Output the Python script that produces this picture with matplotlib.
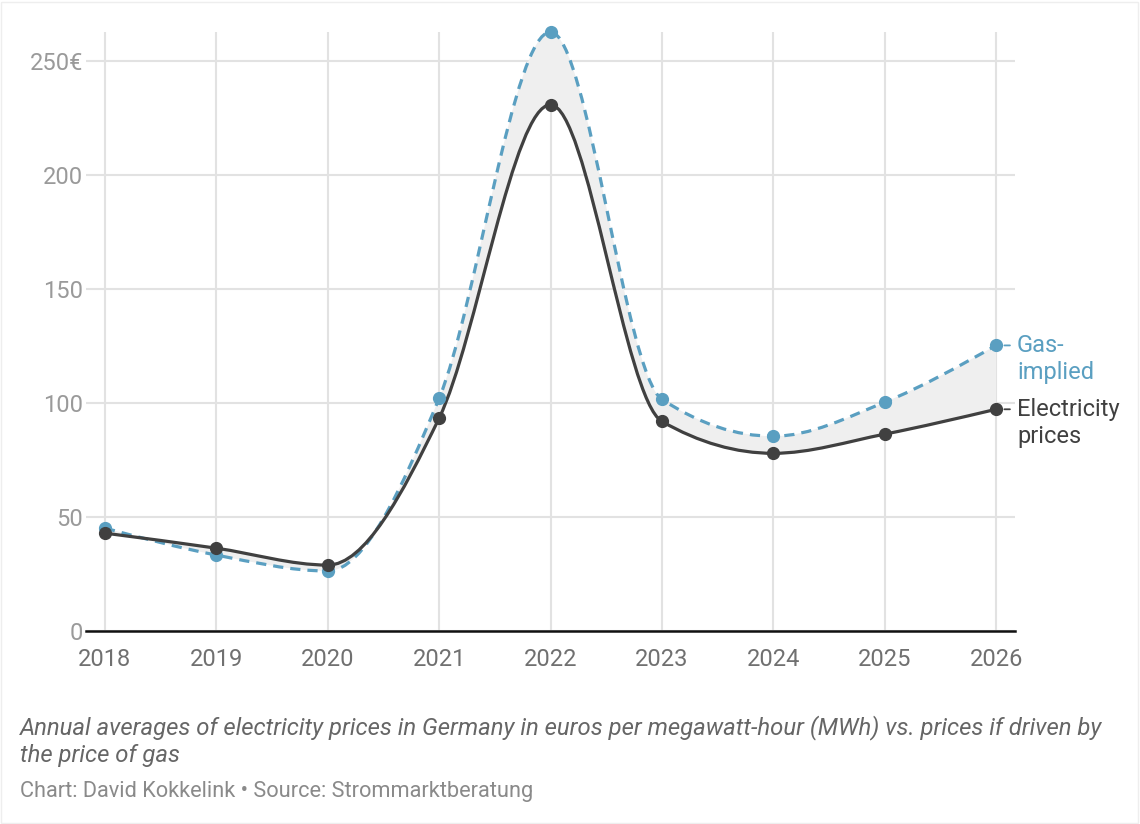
import numpy as np
from matplotlib import pyplot as plt
from matplotlib.path import Path
from matplotlib.patches import PathPatch, Rectangle

# Data (euros per MWh)
YEARS = [2018, 2019, 2020, 2021, 2022, 2023, 2024, 2025, 2026]
GAS_IMPLIED = [45.1, 33.3, 26.3, 102.0, 262.6, 101.6, 85.4, 100.3, 125.2]
ELECTRICITY = [42.9, 36.3, 28.9, 93.3, 230.7, 91.9, 77.9, 86.3, 97.2]
Y_TICKS = [0, 50, 100, 150, 200, 250]
Y_TICK_LABELS = ["0", "50", "100", "150", "200", "250€"]

# Styles
BLUE = "#5a9fc1"
DARK = "#404040"
FILL = "#efefef"
GRID = "#e2e2e2"
FONT = "Roboto"

plt.rcParams["font.family"] = [FONT, "DejaVu Sans"]


def monotone_slopes(x, y):
    """Tangents like d3.curveMonotoneX"""
    x = np.asarray(x, float)
    y = np.asarray(y, float)
    n = len(x)
    t = np.zeros(n)
    for i in range(1, n - 1):
        h0, h1 = x[i] - x[i - 1], x[i + 1] - x[i]
        s0, s1 = (y[i] - y[i - 1]) / h0, (y[i + 1] - y[i]) / h1
        p = (s0 * h1 + s1 * h0) / (h0 + h1)
        t[i] = (np.sign(s0) + np.sign(s1)) * min(abs(s0), abs(s1), 0.5 * abs(p))
    t[0] = (3 * (y[1] - y[0]) / (x[1] - x[0]) - t[1]) / 2
    t[-1] = (3 * (y[-1] - y[-2]) / (x[-1] - x[-2]) - t[-2]) / 2
    return t


def bezier_vertices(x, y):
    """Cubic bezier vertices and codes for a monotone curve through the points"""
    t = monotone_slopes(x, y)
    verts = [(x[0], y[0])]
    codes = [Path.MOVETO]
    for i in range(len(x) - 1):
        dx = (x[i + 1] - x[i]) / 3
        verts += [(x[i] + dx, y[i] + dx * t[i]),
                  (x[i + 1] - dx, y[i + 1] - dx * t[i + 1]),
                  (x[i + 1], y[i + 1])]
        codes += [Path.CURVE4] * 3
    return verts, codes


fig = plt.figure(figsize=(11.4, 8.24), dpi=100)
ax = fig.add_axes([86 / 1140, (824 - 631) / 824, (1015 - 86) / 1140, (631 - 32) / 824])

# Band between the two curves
gas_v, gas_c = bezier_vertices(YEARS, GAS_IMPLIED)
ele_v, ele_c = bezier_vertices(YEARS[::-1], ELECTRICITY[::-1])
band = Path(gas_v + [ele_v[0]] + ele_v[1:] + [gas_v[0]],
            gas_c + [Path.LINETO] + ele_c[1:] + [Path.CLOSEPOLY])
ax.add_patch(PathPatch(band, facecolor=FILL, edgecolor="none", zorder=1))

# Curves
ax.add_patch(PathPatch(Path(gas_v, gas_c), facecolor="none", edgecolor=BLUE,
                       linewidth=2.3, linestyle=(0, (3.2, 2.2)), zorder=3,
                       clip_on=False))
ax.add_patch(PathPatch(Path(*bezier_vertices(YEARS, ELECTRICITY)), facecolor="none",
                       edgecolor=DARK, linewidth=2.3, zorder=4, clip_on=False))

# Points
ax.plot(YEARS, GAS_IMPLIED, "o", color=BLUE, markersize=8.5, zorder=5, clip_on=False)
ax.plot(YEARS, ELECTRICITY, "o", color=DARK, markersize=8.5, zorder=6, clip_on=False)

# Line labels with a short connector dash
for values, text, color in [(GAS_IMPLIED, "Gas-\nimplied", BLUE),
                            (ELECTRICITY, "Electricity\nprices", DARK)]:
    end = (YEARS[-1], values[-1])
    ax.annotate(text, xy=end, xytext=(15, -9.8), textcoords="offset points",
                ha="left", va="center", color=color, fontsize=17,
                linespacing=1.22, annotation_clip=False)
    ax.annotate("", xy=end, xytext=(10, 0), textcoords="offset points",
                annotation_clip=False,
                arrowprops=dict(arrowstyle="-", color=color, lw=1.3,
                                shrinkA=0, shrinkB=6))

# Axes
ax.set_xlim(YEARS[0] - 0.17, YEARS[-1] + 0.17)
ax.set_ylim(0, max(GAS_IMPLIED))
ax.set_xticks(YEARS)
ax.set_yticks(Y_TICKS)
ax.set_yticklabels(Y_TICK_LABELS)
ax.grid(color=GRID, linewidth=1.5, zorder=0)
ax.set_axisbelow(True)
for side in ["top", "right", "left"]:
    ax.spines[side].set_visible(False)
ax.spines["bottom"].set_color("#111111")
ax.spines["bottom"].set_linewidth(1.8)
ax.spines["bottom"].set_zorder(7)
ax.tick_params(axis="both", length=0, labelsize=17)
ax.tick_params(axis="x", pad=12, labelcolor="#707070")
ax.tick_params(axis="y", pad=2, labelcolor="#9a9a9a")

# Caption and credit
fig.text(20 / 1140, 1 - 715 / 824,
         "Annual averages of electricity prices in Germany in euros per megawatt-hour (MWh) vs. prices if driven by\nthe price of gas",
         ha="left", va="top", fontsize=17.2, style="italic", color="#666666", linespacing=1.25)
fig.text(20 / 1140, 1 - 781 / 824, "Chart: David Kokkelink • Source: Strommarktberatung",
         ha="left", va="top", fontsize=15.7, color="#8a8a8a")

# Faint frame round the whole chart
fig.patches.append(Rectangle((0.001, 0.001), 0.997, 0.997, transform=fig.transFigure,
                             facecolor="none", edgecolor="#eeeeee", linewidth=1))

fig.savefig("out.png", dpi=100, facecolor="white")
